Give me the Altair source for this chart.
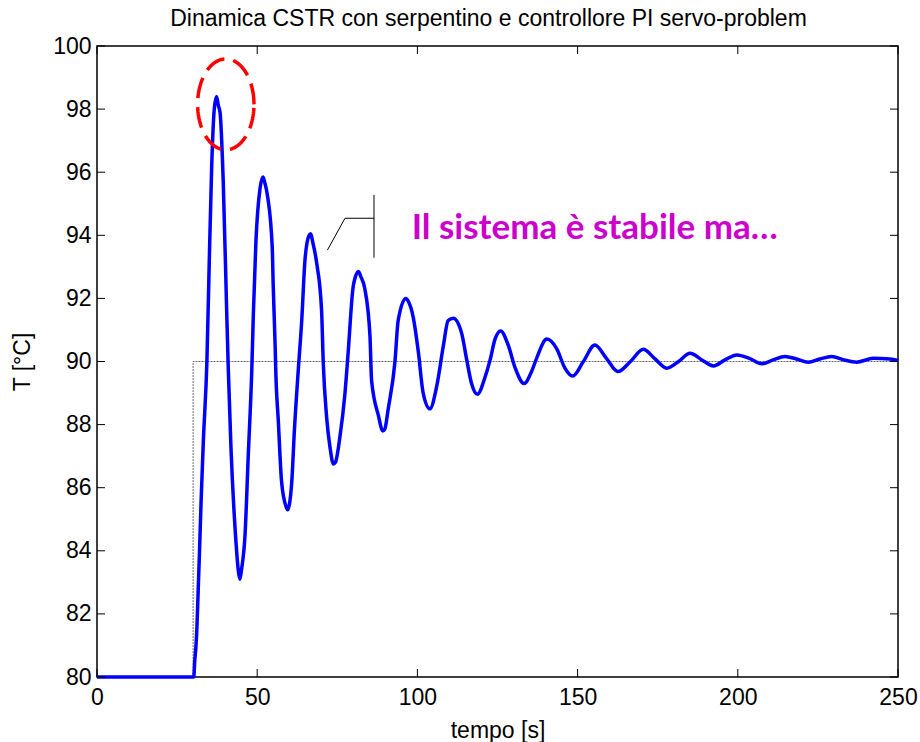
import altair as alt
import pandas as pd
import numpy as np

# ---- data ----
time_s = [0, 30.2, 30.5, 30.9, 31.2, 31.6, 32.0, 32.5, 33.2, 34.3, 35.0, 35.8, 36.6, 37.3,
          37.9, 38.4, 39.4, 40.5, 41.0, 41.8, 43.1, 44.2, 44.6, 45.1, 46.2, 47.2, 48.3,
          48.8, 49.6, 50.9, 51.8, 52.3, 53.3, 54.7, 55.0, 55.6, 55.8, 56.6, 57.6, 59.0,
          59.5, 60.1, 60.8, 61.6, 62.8, 63.9, 64.9, 66.2, 66.7, 67.3, 68.6, 70.1, 70.6,
          71.7, 72.7, 73.8, 74.4, 75.8, 77.4, 78.4, 80.0, 81.6, 82.3, 83.6, 85.2, 85.7,
          87.8, 89.2, 89.8, 90.9, 93.0, 94.0, 96.4, 97.2, 98.7, 100.3, 101.8, 103.9, 106.0,
          108.1, 109.6, 111.2, 113.8, 115.4, 116.9, 118.7, 121.1, 122.7, 124.2, 126.0,
          128.4, 130.5, 133.3, 135.7, 137.2, 140.4, 143.5, 146.0, 148.5, 151.8, 155.4,
          159.0, 162.6, 166.5, 170.5, 174.0, 177.8, 181.5, 185.1, 188.8, 192.4, 196.0,
          199.7, 203.6, 207.5, 211.0, 214.7, 218.3, 222.0, 225.6, 229.3, 233.2, 237.1,
          242.3, 247.5, 250]
temp_c = [80.0, 80.0, 80.5, 81.0, 81.6, 82.8, 84.0, 85.6, 87.5, 90.0, 93.0, 96.2, 98.0, 98.4,
          98.1, 97.9, 95.7, 91.5, 89.7, 87.3, 84.7, 83.3, 83.1, 83.4, 84.5, 87.0, 89.7,
          91.5, 93.8, 95.5, 95.85, 95.7, 95.2, 93.6, 92.4, 90.5, 89.7, 88.1, 86.2, 85.4,
          85.3, 85.5, 86.2, 87.8, 89.7, 91.3, 93.2, 94.0, 94.05, 93.8, 93.1, 91.6, 90.0,
          88.2, 87.3, 86.75, 86.8, 87.6, 89.0, 90.3, 92.4, 92.85, 92.7, 92.3, 90.8, 89.4,
          88.3, 87.8, 87.85, 88.5, 90.0, 91.3, 92.0, 91.9, 91.4, 90.3, 89.0, 88.5, 89.2,
          90.5, 91.3, 91.37, 90.9, 90.05, 89.3, 88.96, 89.5, 90.05, 90.7, 90.97,
          90.5, 89.8, 89.3, 89.7, 90.1, 90.71, 90.4, 89.8, 89.54, 90.0, 90.52,
          90.1, 89.68, 90.0, 90.39, 90.1, 89.79, 90.0, 90.26, 90.05, 89.86, 90.05,
          90.21, 90.1, 89.93, 90.05, 90.16, 90.08, 89.98, 90.08, 90.16, 90.05, 89.98,
          90.1, 90.08, 90.03]

sp_time = [0, 30, 30, 250]
sp_temp = [80, 80, 90, 90]

x_ticks = [0, 50, 100, 150, 200, 250]
y_ticks = [80, 82, 84, 86, 88, 90, 92, 94, 96, 98, 100]

bracket_t = [71.9, 77.4, 86.45]
bracket_T = [93.53, 94.54, 94.54]
bar_t = [86.45]
bar_T1 = [93.29]
bar_T2 = [95.28]

note_text = ["Il sistema è stabile ma…"]
note_t = [98.2]
note_T = [93.87]

ell_center_t, ell_center_T = 40.2, 98.15
ell_a, ell_b = 8.8, 1.44

title_text = "Dinamica CSTR con serpentino e controllore PI servo-problem"

# ---- frames ----
df = pd.DataFrame({"t": time_s, "T": temp_c, "i": range(len(time_s))})
sp = pd.DataFrame({"t": sp_time, "T": sp_temp, "i": range(len(sp_time))})
ang = np.linspace(0, 2 * np.pi, 121)
ell = pd.DataFrame({"t": ell_center_t + ell_a * np.cos(ang),
                    "T": ell_center_T + ell_b * np.sin(ang),
                    "i": range(len(ang))})
br = pd.DataFrame({"t": bracket_t, "T": bracket_T, "i": range(len(bracket_t))})
bar = pd.DataFrame({"t": bar_t, "T": bar_T1, "T2": bar_T2})
note = pd.DataFrame({"t": note_t, "T": note_T, "txt": note_text})
xt = pd.DataFrame({"t": x_ticks})
yt = pd.DataFrame({"T": y_ticks})

W, H = 801, 631
FONT = "Liberation Sans"
xs = alt.Scale(domain=[0, 250], nice=False, zero=False)
ys = alt.Scale(domain=[80, 100], nice=False, zero=False)

x_axis = alt.Axis(values=x_ticks, title="tempo [s]", labelPadding=9, titlePadding=10,
                  labelFlush=False,
                  labelFont=FONT, labelFontSize=23, labelColor="black",
                  titleFont=FONT, titleFontSize=23, titleFontWeight="normal", titleColor="black",
                  domain=False, ticks=False, grid=False)
y_axis = alt.Axis(values=y_ticks, title="T [°C]", labelPadding=6, titlePadding=18,
                  labelFlush=False,
                  labelFont=FONT, labelFontSize=23, labelColor="black",
                  titleFont=FONT, titleFontSize=23, titleFontWeight="normal", titleColor="black",
                  domain=False, ticks=False, grid=False)
X = alt.X("t:Q", scale=xs, axis=x_axis)
Y = alt.Y("T:Q", scale=ys, axis=y_axis)

setpoint = alt.Chart(sp).mark_line(color="#666666", strokeWidth=1, strokeDash=[2, 1]).encode(
    x=X, y=Y, order="i:Q")
curve = alt.Chart(df).mark_line(color="#0000FF", strokeWidth=3.5, interpolate="monotone").encode(
    x=X, y=Y, order="i:Q")
ellipse = alt.Chart(ell).mark_line(color="#FF0000", strokeWidth=3.5, strokeDash=[21, 9]).encode(
    x=X, y=Y, order="i:Q")
bracket = alt.Chart(br).mark_line(color="black", strokeWidth=1).encode(x=X, y=Y, order="i:Q")
barline = alt.Chart(bar).mark_rule(color="black", strokeWidth=1).encode(x=X, y=Y, y2="T2:Q")
label = alt.Chart(note).mark_text(align="left", baseline="alphabetic", font="Lato",
                                  fontWeight="bold", fontSize=35, color="#CC00CC").encode(
    x=X, y=Y, text="txt:N")

tick_b = alt.Chart(xt).mark_rule(color="black", strokeWidth=1).encode(
    x=X, y=alt.value(H), y2=alt.value(H - 8))
tick_t = alt.Chart(xt).mark_rule(color="black", strokeWidth=1).encode(
    x=X, y=alt.value(0), y2=alt.value(8))
tick_l = alt.Chart(yt).mark_rule(color="black", strokeWidth=1).encode(
    y=Y, x=alt.value(0), x2=alt.value(8))
tick_r = alt.Chart(yt).mark_rule(color="black", strokeWidth=1).encode(
    y=Y, x=alt.value(W), x2=alt.value(W - 8))

chart = alt.layer(setpoint, curve, ellipse, bracket, barline, label,
                  tick_b, tick_t, tick_l, tick_r).properties(
    width=W, height=H,
    background="white",
    title=alt.TitleParams(title_text, font=FONT, fontSize=23, fontWeight="normal",
                          color="black", anchor="middle", offset=4, dx=-9),
    autosize=alt.AutoSizeParams(type="none"),
    padding={"left": 97, "top": 46, "right": 22, "bottom": 65},
).configure_view(stroke="black", strokeWidth=1.5)

chart.save("out.html", embed_options={"renderer": "svg", "actions": False})
